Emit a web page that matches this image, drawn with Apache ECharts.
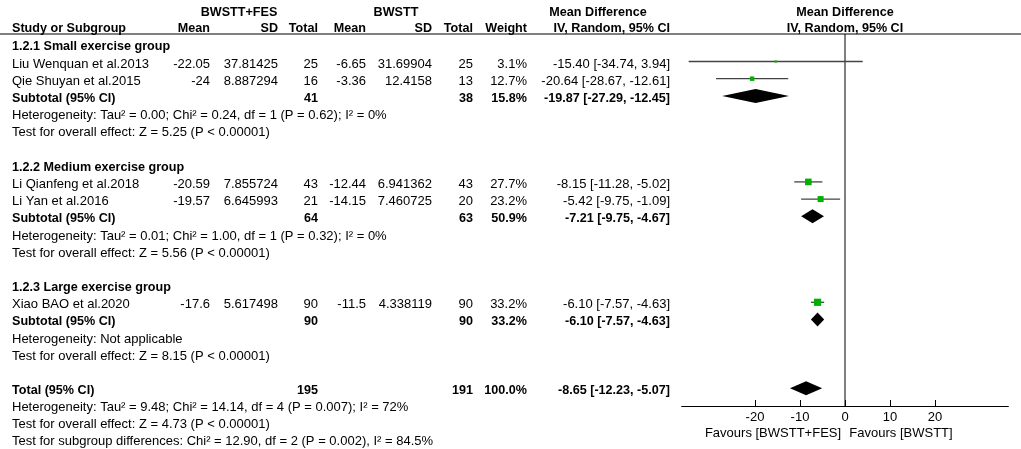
<!DOCTYPE html>
<html>
<head>
<meta charset="utf-8">
<script src="https://cdn.jsdelivr.net/npm/echarts@6/dist/echarts.min.js"></script>
<style>
  html, body { margin: 0; padding: 0; background: #fff; }
  #chart { width: 1021px; height: 449px; }
</style>
</head>
<body>
<div id="chart"></div>
<script>
// ---- data ----
var studies = ['Liu Wenquan et al.2013', 'Qie Shuyan et al.2015', 'Li Qianfeng et al.2018', 'Li Yan et al.2016', 'Xiao BAO et al.2020'];
var studyRows = [1, 2, 8, 9, 15];
var expMean = [-22.05, -24, -20.59, -19.57, -17.6];
var expSD = [37.81425, 8.887294, 7.855724, 6.645993, 5.617498];
var expN = [25, 16, 43, 21, 90];
var ctlMean = [-6.65, -3.36, -12.44, -14.15, -11.5];
var ctlSD = [31.69904, 12.4158, 6.941362, 7.460725, 4.338119];
var ctlN = [25, 13, 43, 20, 90];
var weights = [3.1, 12.7, 27.7, 23.2, 33.2];
var md = [-15.40, -20.64, -8.15, -5.42, -6.10];
var mdLo = [-34.74, -28.67, -11.28, -9.75, -7.57];
var mdHi = [3.94, -12.61, -5.02, -1.09, -4.63];

var groupNames = ['1.2.1 Small exercise group', '1.2.2 Medium exercise group', '1.2.3 Large exercise group'];
var groupRows = [0, 7, 14];
var subRows = [3, 10, 16];
var subExpN = [41, 64, 90];
var subCtlN = [38, 63, 90];
var subWeight = [15.8, 50.9, 33.2];
var subMd = [-19.87, -7.21, -6.10];
var subLo = [-27.29, -9.75, -7.57];
var subHi = [-12.45, -4.67, -4.63];
var hetTexts = [
  'Heterogeneity: Tau\u00b2 = 0.00; Chi\u00b2 = 0.24, df = 1 (P = 0.62); I\u00b2 = 0%',
  'Heterogeneity: Tau\u00b2 = 0.01; Chi\u00b2 = 1.00, df = 1 (P = 0.32); I\u00b2 = 0%',
  'Heterogeneity: Not applicable'
];
var effectTexts = [
  'Test for overall effect: Z = 5.25 (P < 0.00001)',
  'Test for overall effect: Z = 5.56 (P < 0.00001)',
  'Test for overall effect: Z = 8.15 (P < 0.00001)'
];

var totalRow = 20;
var totalExpN = 195, totalCtlN = 191, totalWeight = 100.0;
var totalMd = -8.65, totalLo = -12.23, totalHi = -5.07;
var footTexts = [
  'Heterogeneity: Tau\u00b2 = 9.48; Chi\u00b2 = 14.14, df = 4 (P = 0.007); I\u00b2 = 72%',
  'Test for overall effect: Z = 4.73 (P < 0.00001)',
  'Test for subgroup differences: Chi\u00b2 = 12.90, df = 2 (P = 0.002), I\u00b2 = 84.5%'
];
var tickValues = [-20, -10, 0, 10, 20];

// ---- layout ----
var ROW0 = 44.3, ROWH = 17.2, AXIS_Y = 406, HEAD_Y = 34;
var FONT = '13px "Liberation Sans", Arial, sans-serif';
var BOLD = 'bold 12.6px "Liberation Sans", Arial, sans-serif';
var cols = { study: 12, eMean: 210, eSD: 278, eN: 318, cMean: 366, cSD: 432, cN: 473, w: 527, md: 670 };

function rowY(r) { return ROW0 + ROWH * r + 2.5; }
function txt(s, x, y, align, font) {
  return { type: 'text', x: x, y: y, silent: true,
    style: { text: s, font: font || FONT, fill: '#000', align: align || 'left', verticalAlign: 'middle' } };
}
function fmtCI(m, l, h) { return m.toFixed(2) + ' [' + l.toFixed(2) + ', ' + h.toFixed(2) + ']'; }

var g = [];
// header
g.push(txt('BWSTT+FES', 239, 13, 'center', BOLD));
g.push(txt('BWSTT', 396, 13, 'center', BOLD));
g.push(txt('Mean Difference', 598, 13, 'center', BOLD));
g.push(txt('Mean Difference', 845, 13, 'center', BOLD));
g.push(txt('Study or Subgroup', cols.study, 29, 'left', BOLD));
g.push(txt('Mean', cols.eMean, 29, 'right', BOLD));
g.push(txt('SD', cols.eSD, 29, 'right', BOLD));
g.push(txt('Total', cols.eN, 29, 'right', BOLD));
g.push(txt('Mean', cols.cMean, 29, 'right', BOLD));
g.push(txt('SD', cols.cSD, 29, 'right', BOLD));
g.push(txt('Total', cols.cN, 29, 'right', BOLD));
g.push(txt('Weight', cols.w, 29, 'right', BOLD));
g.push(txt('IV, Random, 95% CI', cols.md, 29, 'right', BOLD));
g.push(txt('IV, Random, 95% CI', 845, 29, 'center', BOLD));
g.push({ type: 'line', silent: true, shape: { x1: 0, y1: HEAD_Y, x2: 1021, y2: HEAD_Y },
  style: { stroke: '#000', lineWidth: 1 } });

studies.forEach(function (s, i) {
  var y = rowY(studyRows[i]);
  g.push(txt(s, cols.study, y));
  g.push(txt(String(expMean[i]), cols.eMean, y, 'right'));
  g.push(txt(String(expSD[i]), cols.eSD, y, 'right'));
  g.push(txt(String(expN[i]), cols.eN, y, 'right'));
  g.push(txt(String(ctlMean[i]), cols.cMean, y, 'right'));
  g.push(txt(String(ctlSD[i]), cols.cSD, y, 'right'));
  g.push(txt(String(ctlN[i]), cols.cN, y, 'right'));
  g.push(txt(weights[i].toFixed(1) + '%', cols.w, y, 'right'));
  g.push(txt(fmtCI(md[i], mdLo[i], mdHi[i]), cols.md, y, 'right'));
});
groupNames.forEach(function (s, i) {
  g.push(txt(s, cols.study, rowY(groupRows[i]), 'left', BOLD));
  var y = rowY(subRows[i]);
  g.push(txt('Subtotal (95% CI)', cols.study, y, 'left', BOLD));
  g.push(txt(String(subExpN[i]), cols.eN, y, 'right', BOLD));
  g.push(txt(String(subCtlN[i]), cols.cN, y, 'right', BOLD));
  g.push(txt(subWeight[i].toFixed(1) + '%', cols.w, y, 'right', BOLD));
  g.push(txt(fmtCI(subMd[i], subLo[i], subHi[i]), cols.md, y, 'right', BOLD));
  g.push(txt(hetTexts[i], cols.study, rowY(subRows[i] + 1)));
  g.push(txt(effectTexts[i], cols.study, rowY(subRows[i] + 2)));
});
var ty = rowY(totalRow);
g.push(txt('Total (95% CI)', cols.study, ty, 'left', BOLD));
g.push(txt(String(totalExpN), cols.eN, ty, 'right', BOLD));
g.push(txt(String(totalCtlN), cols.cN, ty, 'right', BOLD));
g.push(txt(totalWeight.toFixed(1) + '%', cols.w, ty, 'right', BOLD));
g.push(txt(fmtCI(totalMd, totalLo, totalHi), cols.md, ty, 'right', BOLD));
footTexts.forEach(function (s, i) { g.push(txt(s, cols.study, rowY(totalRow + 1 + i) - 0.5)); });
g.push(txt('Favours [BWSTT+FES]', 773, 433, 'center'));
g.push(txt('Favours [BWSTT]', 901, 433, 'center'));

// ---- plot series ----
var yMin = -ROW0 / ROWH;
var yMax = (AXIS_Y - ROW0) / ROWH;
var yHead = (HEAD_Y - ROW0) / ROWH;

var ciData = studies.map(function (s, i) { return [mdLo[i], mdHi[i], studyRows[i]]; });
var pointData = studies.map(function (s, i) { return { name: s, value: [md[i], studyRows[i]], symbolSize: 1.25 * Math.sqrt(weights[i]) }; });
var diamondData = subMd.map(function (m, i) { return [subLo[i], m, subHi[i], subRows[i]]; });
diamondData.push([totalLo, totalMd, totalHi, totalRow]);

var chart = echarts.init(document.getElementById('chart'));
chart.setOption({
  animation: false,
  grid: { left: 681.65, right: 1021 - 1008.35, top: 0, height: AXIS_Y },
  xAxis: {
    type: 'value', min: -36.3, max: 36.3, position: 'bottom',
    splitLine: { show: false },
    axisLine: { onZero: false, lineStyle: { color: '#000', width: 1 } },
    axisTick: { inside: true, length: 6, customValues: tickValues, lineStyle: { color: '#000' } },
    axisLabel: { customValues: tickValues, margin: 5, color: '#000', fontSize: 13, fontFamily: 'Liberation Sans' }
  },
  yAxis: { type: 'value', inverse: true, min: yMin, max: yMax, show: false },
  graphic: g,
  series: [
    {
      type: 'line', silent: true, symbol: 'none',
      data: [[0, yHead], [0, yMax]],
      lineStyle: { color: '#000', width: 1 }, z: 1
    },
    {
      type: 'custom', silent: true, z: 2,
      data: ciData,
      renderItem: function (params, api) {
        var a = api.coord([api.value(0), api.value(2)]);
        var b = api.coord([api.value(1), api.value(2)]);
        return { type: 'line', shape: { x1: a[0], y1: a[1], x2: b[0], y2: b[1] },
          style: { stroke: '#444', lineWidth: 1.3 } };
      }
    },
    {
      type: 'scatter', symbol: 'rect', z: 3, silent: true,
      data: pointData,
      itemStyle: { color: '#00b000', opacity: 1 }
    },
    {
      type: 'custom', silent: true, z: 3,
      data: diamondData,
      renderItem: function (params, api) {
        var l = api.coord([api.value(0), api.value(3)]);
        var m = api.coord([api.value(1), api.value(3)]);
        var h = api.coord([api.value(2), api.value(3)]);
        var hh = 7;
        return { type: 'polygon',
          shape: { points: [[l[0], l[1]], [m[0], m[1] - hh], [h[0], h[1]], [m[0], m[1] + hh]] },
          style: { fill: '#000' } };
      }
    }
  ]
});
</script>
</body>
</html>
